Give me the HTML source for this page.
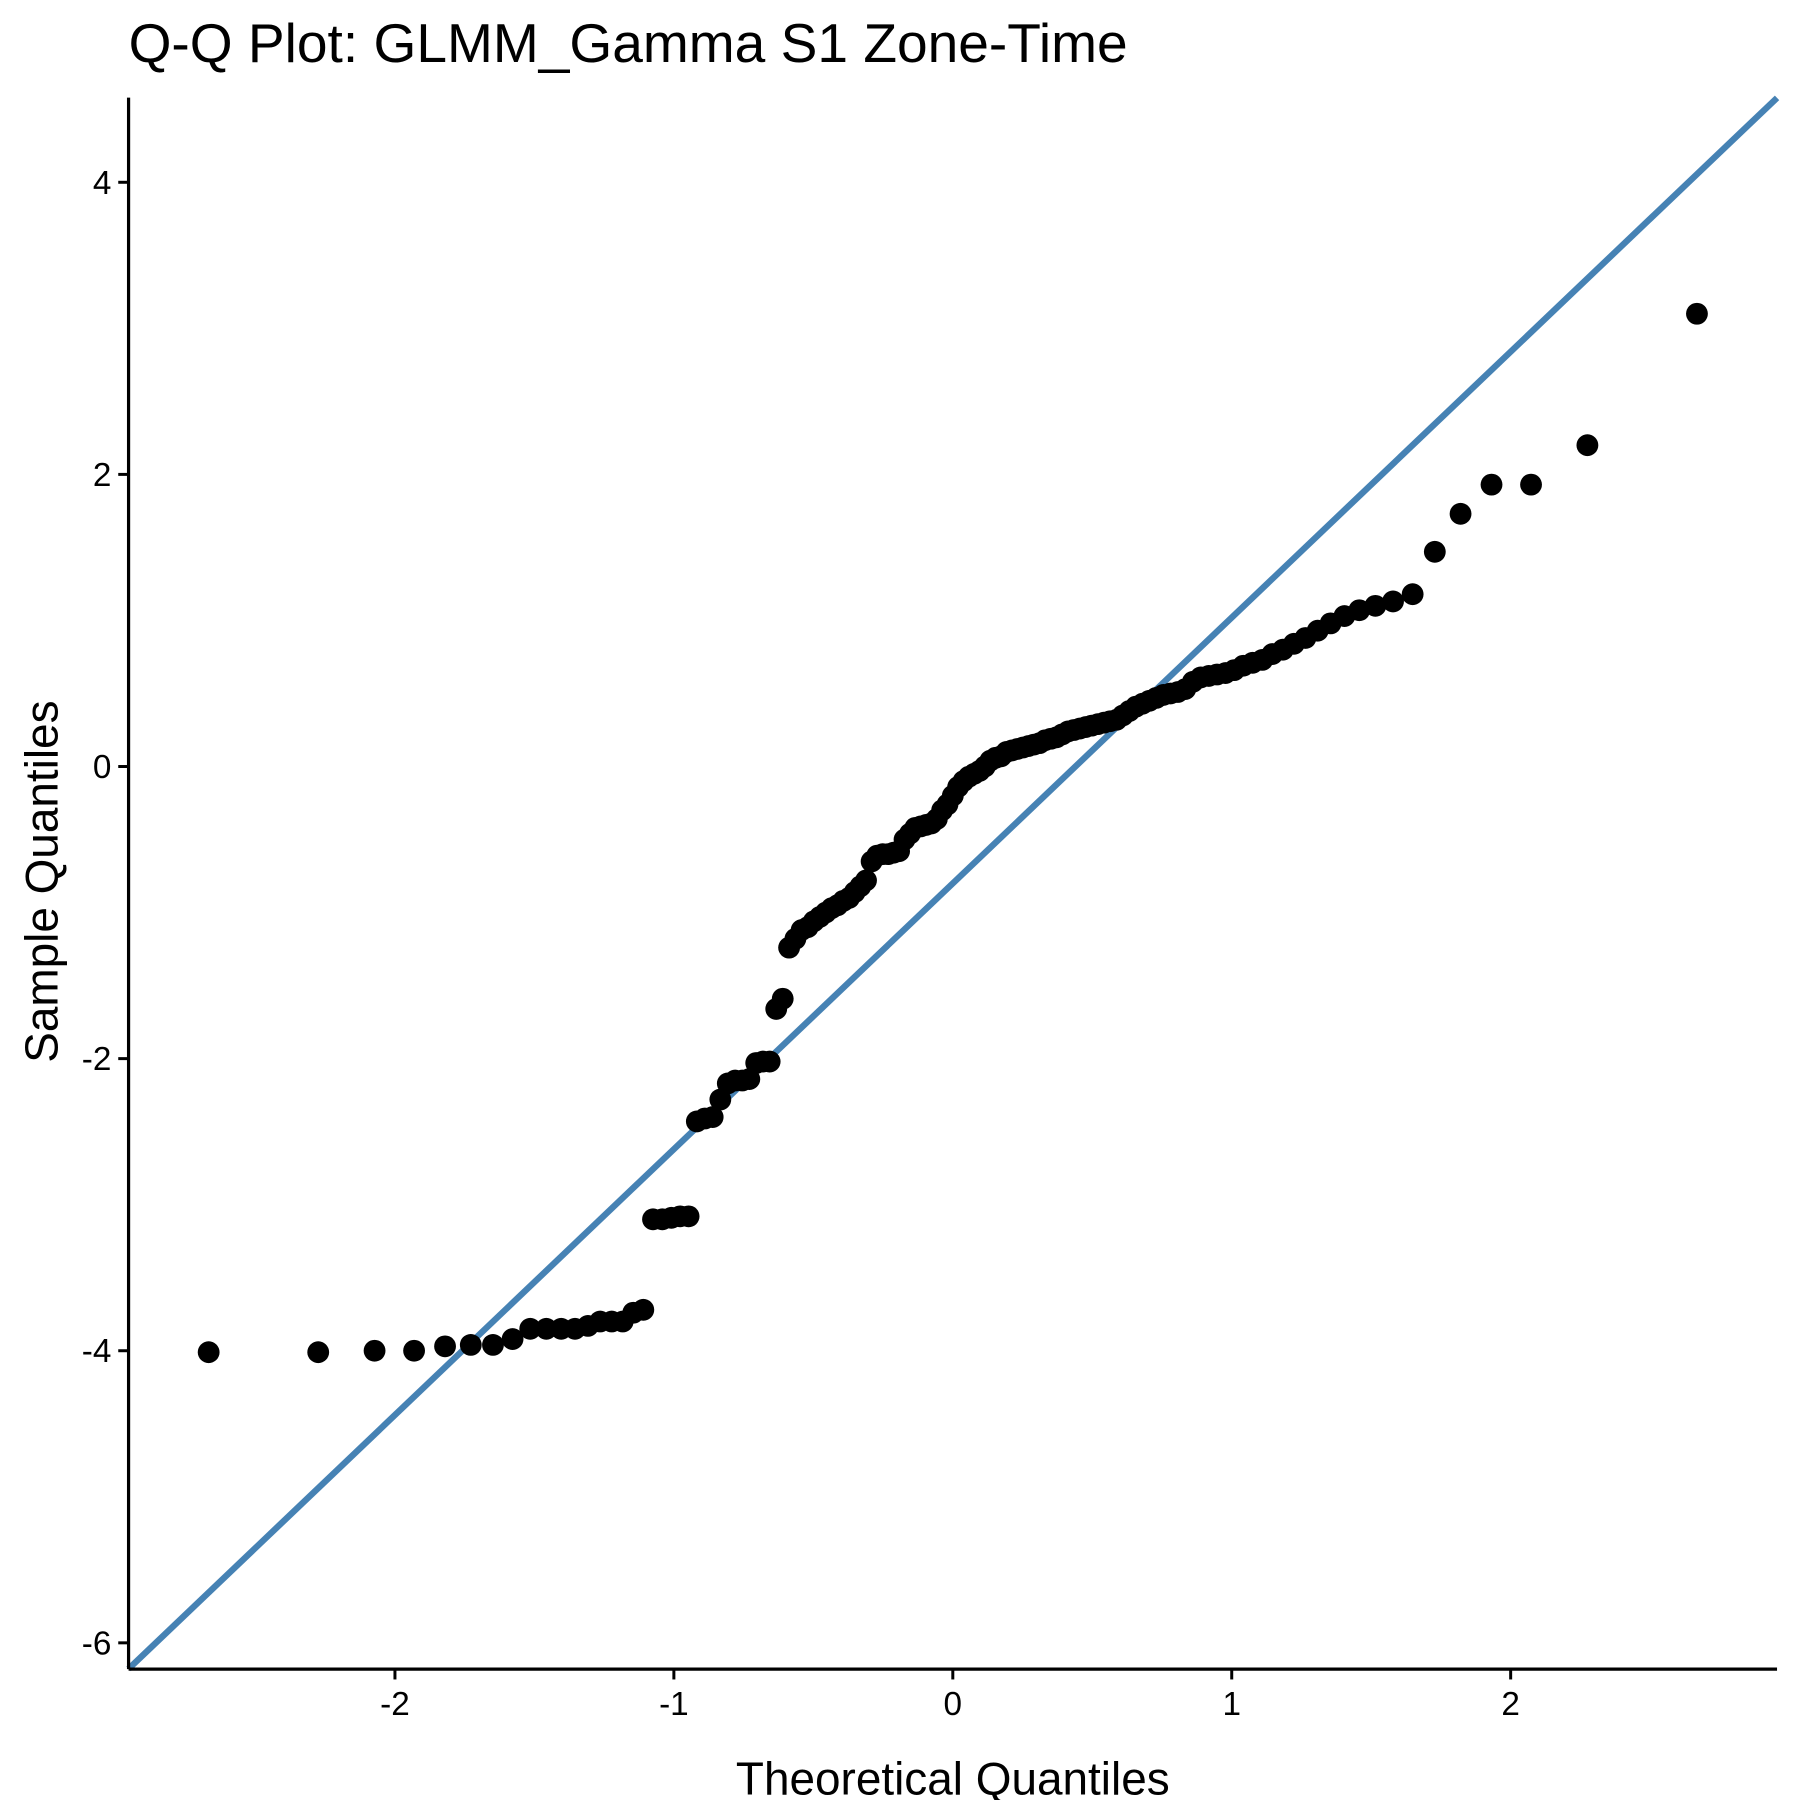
<!DOCTYPE html>
<html><head><meta charset="utf-8"><style>
html,body{margin:0;padding:0;background:#fff;}
svg{display:block;font-family:"Liberation Sans",Arial,sans-serif;}
</style></head><body>
<svg id="chart" width="1800" height="1800" viewBox="0 0 1568 1568" xmlns="http://www.w3.org/2000/svg">
<text x="112" y="54" font-size="48" fill="#000">Q-Q Plot: GLMM_Gamma S1 Zone-Time</text>
<g id="ref"></g>
<g id="pts"></g>
<g id="axes"></g>
<text x="830" y="1563" font-size="40" text-anchor="middle">Theoretical Quantiles</text>
<text transform="translate(50,768) rotate(-90)" font-size="40" text-anchor="middle">Sample Quantiles</text>
</svg>
<script>
const sampleValues = [-4.01,-4.01,-4.00,-4.00,-3.97,-3.96,-3.96,-3.92,-3.85,-3.85,-3.85,-3.85,-3.83,-3.80,-3.80,-3.80,-3.74,-3.72,
-3.10,-3.10,-3.09,-3.08,-3.08,
-2.43,-2.41,-2.40,
-2.28,
-2.17,-2.15,-2.15,-2.14,
-2.03,-2.02,-2.02,
-1.66,-1.59,
-1.24,-1.18,-1.12,-1.10,-1.06,-1.03,-1.00,-0.97,-0.95,-0.92,-0.90,-0.86,-0.82,-0.78,
-0.65,-0.61,-0.60,-0.60,-0.59,-0.58,
-0.50,-0.46,-0.42,-0.41,-0.40,-0.39,
-0.36,-0.30,-0.26,-0.20,-0.14,-0.10,
-0.07,-0.05,-0.03,0.00,0.04,0.06,0.07,
0.10,0.11,0.12,0.13,0.14,0.15,0.16,0.18,0.19,0.20,0.22,0.24,0.25,
0.26,0.27,0.28,0.29,0.30,0.31,0.32,0.35,0.38,
0.41,0.43,0.45,0.47,0.49,0.50,0.51,0.53,
0.58,0.61,0.62,0.63,0.64,0.66,0.69,0.71,
0.73,0.77,0.80,0.84,0.88,
0.93,0.98,1.03,1.07,1.10,1.13,
1.18,1.47,1.73,1.93,1.93,2.20,3.10];
const xTicks = [-2,-1,0,1,2];
const yTicks = [4,2,0,-2,-4,-6];
const lineSlope = 1.82;
const lineIntercept = -0.80;
const xDomain = [-2.955, 2.955];
const yDomain = [-6.18, 4.58];

const L=112,R=1548,T=85,B=1454;
const sx=v=>L+(v-xDomain[0])/(xDomain[1]-xDomain[0])*(R-L);
const sy=v=>B-(v-yDomain[0])/(yDomain[1]-yDomain[0])*(B-T);
const NS="http://www.w3.org/2000/svg";
function mk(tag,attrs,parent){const e=document.createElementNS(NS,tag);for(const k in attrs)e.setAttribute(k,attrs[k]);parent.appendChild(e);return e;}
function qnorm(p){
 const a=[-39.69683028665376,220.9460984245205,-275.9285104469687,138.3577518672690,-30.66479806614716,2.506628277459239];
 const b=[-54.47609879822406,161.5858368580409,-155.6989798598866,66.80131188771972,-13.28068155288572];
 const c=[-0.007784894002430293,-0.3223964580411365,-2.400758277161838,-2.549732539343734,4.374664141464968,2.938163982698783];
 const d=[0.007784695709041462,0.3224671290700398,2.445134137142996,3.754408661907416];
 const pl=0.02425;let q,r;
 if(p<pl){q=Math.sqrt(-2*Math.log(p));return (((((c[0]*q+c[1])*q+c[2])*q+c[3])*q+c[4])*q+c[5])/((((d[0]*q+d[1])*q+d[2])*q+d[3])*q+1);}
 if(p>1-pl){q=Math.sqrt(-2*Math.log(1-p));return -(((((c[0]*q+c[1])*q+c[2])*q+c[3])*q+c[4])*q+c[5])/((((d[0]*q+d[1])*q+d[2])*q+d[3])*q+1);}
 q=p-0.5;r=q*q;return (((((a[0]*r+a[1])*r+a[2])*r+a[3])*r+a[4])*r+a[5])*q/(((((b[0]*r+b[1])*r+b[2])*r+b[3])*r+b[4])*r+1);
}
const ref=document.getElementById('ref');
const ln=mk('line',{x1:sx(xDomain[0]),y1:sy(lineIntercept+lineSlope*xDomain[0]),x2:sx(xDomain[1]),y2:sy(lineIntercept+lineSlope*xDomain[1]),stroke:'#4682B4','stroke-width':5.5},ref);


const pts=document.getElementById('pts');
const n=sampleValues.length;
const sorted=sampleValues.slice().sort((a,b)=>a-b);
sorted.forEach((v,i)=>{
 const t=qnorm((i+0.5)/n);
 const c=mk('circle',{cx:sx(t),cy:sy(v),r:9.5,fill:'#000'},pts);
 
 
});
const ax=document.getElementById('axes');
const xl=mk('line',{x1:L,y1:B,x2:R,y2:B,stroke:'#000','stroke-width':2.8},ax);


const yl=mk('line',{x1:L,y1:T,x2:L,y2:B,stroke:'#000','stroke-width':2.8},ax);


xTicks.forEach(v=>{
 const tk=mk('line',{x1:sx(v),y1:B,x2:sx(v),y2:B+9,stroke:'#000','stroke-width':2.6},ax);
 
 
 const tx=mk('text',{x:sx(v),y:B+40,'font-size':29,'text-anchor':'middle'},ax);
 tx.textContent=v;
 
 
});
yTicks.forEach(v=>{
 const tk=mk('line',{x1:L-9,y1:sy(v),x2:L,y2:sy(v),stroke:'#000','stroke-width':2.6},ax);
 
 
 const tx=mk('text',{x:L-15,y:sy(v)+10,'font-size':29,'text-anchor':'end'},ax);
 tx.textContent=v;
 
 
});
</script>
</body></html>
